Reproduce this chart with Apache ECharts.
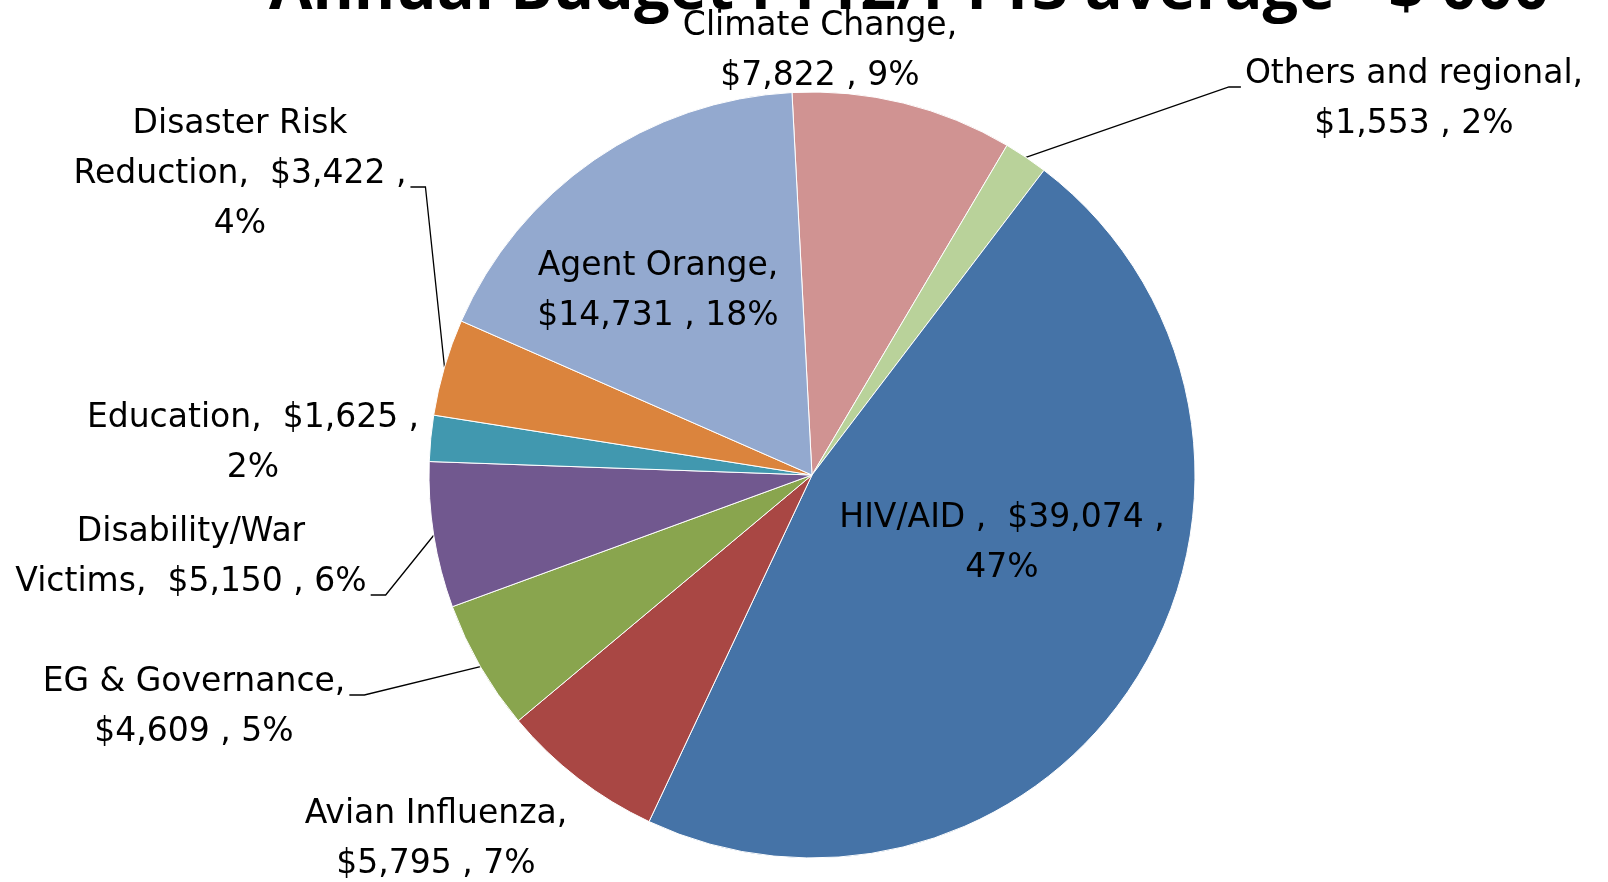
<!DOCTYPE html>
<html>
<head>
<meta charset="utf-8">
<script src="https://cdn.jsdelivr.net/npm/echarts@6/dist/echarts.min.js"></script>
<style>
  html, body { margin: 0; padding: 0; background: #fff; }
  #chart { width: 1608px; height: 882px; }
</style>
</head>
<body>
<div id="chart"></div>
<script>
  "use strict";

  const titleText = "Annual Budget FY12/FY13 average - $'000";
  const categories = [
    "Climate Change",
    "Others and regional",
    "HIV/AID",
    "Avian Influenza",
    "EG & Governance",
    "Disability/War Victims",
    "Education",
    "Disaster Risk Reduction",
    "Agent Orange"
  ];
  const budgets = [7822, 1553, 39074, 5795, 4609, 5150, 1625, 3422, 14731];

  // style / layout, kept apart from the data
  const colors = ["#D09392", "#B9D29A", "#4573A7", "#A94744", "#89A54E", "#71588F", "#4198AF", "#DB843D", "#93A9CF"];
  const labelTemplates = [
    "{n},\n{v} , {p}",
    "{n},\n{v} , {p}",
    "{n} ,  {v} ,\n{p}",
    "{n},\n{v} , {p}",
    "{n},\n{v} , {p}",
    "{n},  {v} , {p}",
    "{n},  {v} ,\n{p}",
    "{n},  {v} ,\n{p}",
    "{n},\n{v} , {p}"
  ];
  const breakName = [false, false, false, false, false, true, false, true, false];
  // leader line: null = none, otherwise [side of label block, text line it ends on]
  const leader = [null, ["left", 0], null, null, ["right", 0], ["right", 1], null, ["right", 1], null];
  // centre of each label block, in pixels
  const labelPos = [
    [820, 51], [1414, 99], [1002, 543], [436, 839], [194, 707],
    [191, 557], [253, 443], [240, 174], [658, 291]
  ];
  const LINE_H = 50;

  const chart = echarts.init(document.getElementById("chart"), null, { renderer: "canvas" });
  const font = "'DejaVu Sans', sans-serif";

  const money = (v) => "$" + v.toLocaleString("en-US");

  chart.setOption({
    animation: false,
    backgroundColor: "#fff",
    title: {
      text: titleText,
      left: 269,
      top: -40,
      padding: 0,
      textStyle: { fontFamily: "'Open Sans', sans-serif", fontWeight: "bold", fontSize: 63, color: "#000" }
    },
    series: [{
      type: "pie",
      center: [812, 475],
      radius: 383,
      startAngle: 93,
      clockwise: true,
      percentPrecision: 0,
      avoidLabelOverlap: false,
      itemStyle: { borderColor: "#fff", borderWidth: 1 },
      emphasis: { disabled: true },
      label: {
        position: "outside",
        fontFamily: font,
        fontSize: 33,
        lineHeight: LINE_H,
        color: "#000",
        align: "center",
        formatter(p) {
          const i = p.dataIndex;
          let name = p.name;
          if (breakName[i]) {
            const k = name.lastIndexOf(" ");
            name = name.slice(0, k) + "\n" + name.slice(k + 1);
          }
          return labelTemplates[i]
            .replace("{n}", name)
            .replace("{v}", money(p.value))
            .replace("{p}", p.percent + "%");
        }
      },
      labelLine: {
        show: true,
        length: 10,
        length2: 10,
        lineStyle: { color: "#000", width: 1.3 }
      },
      labelLayout(params) {
        const i = params.dataIndex;
        const pos = labelPos[i];
        const out = { x: pos[0], y: pos[1], align: "center", verticalAlign: "middle" };
        const ld = leader[i];
        if (ld && params.labelLinePoints) {
          const w = params.labelRect.width;
          const h = params.labelRect.height;
          const top = pos[1] - h / 2;
          const ay = top + (ld[1] + 0.5) * LINE_H + 13;
          const ax = ld[0] === "left" ? pos[0] - w / 2 - 4 : pos[0] + w / 2 + 4;
          const bx = ld[0] === "left" ? ax - 12 : ax + 15;
          out.labelLinePoints = [params.labelLinePoints[0], [bx, ay], [ax, ay]];
        }
        return out;
      },
      data: categories.map((name, i) => ({
        name,
        value: budgets[i],
        itemStyle: { color: colors[i] },
        labelLine: { show: !!leader[i] }
      }))
    }]
  });
</script>
</body>
</html>
